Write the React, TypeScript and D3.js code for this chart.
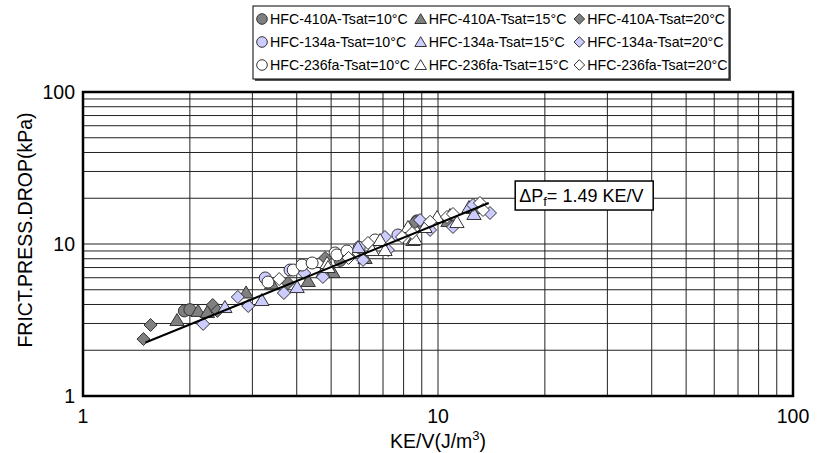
import React from "react";
import * as d3 from "d3";

// KE/V (J/m3) vs frictional pressure drop (kPa)
const r410a_10 = [[1.93, 3.63], [2.0, 3.70], [5.3, 7.8], [8.73, 14.2], [9.1, 13.4]];
const r410a_15 = [
  [1.84, 3.16], [2.11, 3.63], [2.24, 3.57], [2.88, 4.8], [3.4, 5.5], [4.31, 5.71],
  [5.06, 6.54], [6.23, 8.09], [8.5, 10.63], [10.67, 14.17], [12.55, 17.26],
];
const r410a_20 = [
  [1.48, 2.37], [1.55, 2.93], [2.32, 3.97], [2.39, 3.63], [3.78, 5.54],
  [4.81, 8.09], [5.6, 8.3], [8.62, 13.95],
];
const r134a_10 = [[3.26, 5.98], [3.83, 6.74], [6.0, 9.5], [7.71, 11.46]];
const r134a_15 = [
  [2.51, 3.85], [3.19, 4.28], [4.01, 5.21], [4.74, 6.54], [5.95, 9.55],
  [12.23, 17.51], [12.63, 15.76],
];
const r134a_20 = [
  [2.18, 2.98], [2.73, 4.48], [2.92, 3.91], [3.68, 4.76], [4.2, 6.44], [4.74, 6.07],
  [6.15, 7.85], [7.09, 11.12], [7.23, 9.13], [8.9, 14.38], [9.5, 12.37],
  [11.02, 12.94], [12.55, 18.06], [14.01, 15.99],
];
const r236fa_10 = [
  [3.32, 5.62], [3.91, 6.74], [4.14, 7.27], [4.42, 7.5], [5.13, 8.73],
  [5.19, 8.47], [5.54, 8.99], [6.65, 10.63],
];
const r236fa_15 = [
  [4.87, 7.5], [4.9, 7.06], [6.52, 9.13], [6.87, 10.63], [7.09, 9.13], [8.23, 12.94],
  [8.62, 10.8], [9.19, 12.94], [9.94, 15.06], [10.81, 15.52], [11.31, 13.95],
];
const r236fa_20 = [
  [3.57, 5.88], [5.6, 8.1], [6.35, 10.16], [7.92, 11.12], [8.45, 11.81], [9.5, 14.0],
  [10.6, 15.06], [11.02, 15.76], [13.13, 18.61], [13.39, 16.74],
];

const fitLine = [[1.5, 2.25], [13.9, 18.6]];
const fitLabelAt = [16.5, 21];

const xTicks = [1, 10, 100];
const yTicks = [1, 10, 100];

const series = [
  { name: "HFC-410A-Tsat=10°C", shape: "circle", fill: "#808080", data: r410a_10 },
  { name: "HFC-410A-Tsat=15°C", shape: "triangle", fill: "#808080", data: r410a_15 },
  { name: "HFC-410A-Tsat=20°C", shape: "diamond", fill: "#808080", data: r410a_20 },
  { name: "HFC-134a-Tsat=10°C", shape: "circle", fill: "#ccccff", data: r134a_10 },
  { name: "HFC-134a-Tsat=15°C", shape: "triangle", fill: "#ccccff", data: r134a_15 },
  { name: "HFC-134a-Tsat=20°C", shape: "diamond", fill: "#ccccff", data: r134a_20 },
  { name: "HFC-236fa-Tsat=10°C", shape: "circle", fill: "#ffffff", data: r236fa_10 },
  { name: "HFC-236fa-Tsat=15°C", shape: "triangle", fill: "#ffffff", data: r236fa_15 },
  { name: "HFC-236fa-Tsat=20°C", shape: "diamond", fill: "#ffffff", data: r236fa_20 },
];

const W = 831, H = 453;
const m = { left: 83, right: 38, top: 92, bottom: 57 };
const font = "'Liberation Sans', Arial, sans-serif";

function markerPath(shape: string, s: number) {
  if (shape === "circle") return d3.symbol(d3.symbolCircle, Math.PI * s * s)();
  if (shape === "triangle") return `M0,${-s}L${s * 1.1},${s * 0.85}L${-s * 1.1},${s * 0.85}Z`;
  return `M0,${-s}L${s},0L0,${s}L${-s},0Z`;
}

export default function App() {
  const x = d3.scaleLog().domain([1, 100]).range([m.left, W - m.right]);
  const y = d3.scaleLog().domain([1, 100]).range([H - m.bottom, m.top]);
  const gridX = x.ticks().filter((v) => v > 1 && v < 100);
  const gridY = y.ticks().filter((v) => v > 1 && v < 100);
  const line = d3.line<number[]>().x((d) => x(d[0])).y((d) => y(d[1]));

  const legX = 253, legY = 6, legW = 476, legH = 73;
  const colW = legW / 3;

  const lx = x(fitLabelAt[0]), ly = y(fitLabelAt[1]);

  return (
    <svg width={W} height={H} style={{ position: "absolute", left: 0, top: 0 }} fontFamily={font}>
      <rect width={W} height={H} fill="#fff" />
      {gridX.map((v) => (
        <line key={"gx" + v} x1={x(v)} x2={x(v)} y1={y(1)} y2={y(100)} stroke="#222" strokeWidth={1} />
      ))}
      {gridY.map((v) => (
        <line key={"gy" + v} x1={x(1)} x2={x(100)} y1={y(v)} y2={y(v)} stroke="#222" strokeWidth={1} />
      ))}
      <rect x={x(1)} y={y(100)} width={x(100) - x(1)} height={y(1) - y(100)} fill="none" stroke="#000" strokeWidth={2.5} />

      {series.map((s) =>
        s.data.map((d, i) => (
          <path key={s.name + i} d={markerPath(s.shape, s.shape === "circle" ? 6 : 6.5)!}
            transform={`translate(${x(d[0])},${y(d[1])})`} fill={s.fill} stroke="#333" strokeWidth={1} />
        ))
      )}
      <path d={line(fitLine)!} fill="none" stroke="#000" strokeWidth={2} />

      <g transform={`translate(${lx},${ly})`}>
        <rect x={0} y={-14} width={138} height={29} fill="#fff" stroke="#000" strokeWidth={1.5} />
        <text x={4} y={7} fontSize={18}>
          ΔP<tspan fontSize={13} dy={4}>f</tspan><tspan dy={-4}>= 1.49 KE/V</tspan>
        </text>
      </g>

      {xTicks.map((v) => (
        <text key={"xt" + v} x={x(v)} y={y(1) + 27} fontSize={19.5} textAnchor="middle">{v}</text>
      ))}
      {yTicks.map((v) => (
        <text key={"yt" + v} x={x(1) - 8} y={y(v) + 7} fontSize={19.5} textAnchor="end">{v}</text>
      ))}
      <text x={(x(1) + x(100)) / 2} y={448} fontSize={19.5} textAnchor="middle">
        KE/V(J/m<tspan fontSize={13} dy={-8}>3</tspan><tspan dy={8}>)</tspan>
      </text>
      <text transform="translate(32,230) rotate(-90)" fontSize={19.5} textAnchor="middle">
        FRICT.PRESS.DROP(kPa)
      </text>

      <rect x={legX + 2} y={legY + 2} width={legW} height={legH} fill="#555" />
      <rect x={legX} y={legY} width={legW} height={legH} fill="#fff" stroke="#000" strokeWidth={1} />
      {series.map((s, i) => {
        const cx = legX + 9 + (i % 3) * colW;
        const cy = legY + 13 + Math.floor(i / 3) * 23;
        return (
          <g key={"leg" + i}>
            <path d={markerPath(s.shape, 5.3)!} transform={`translate(${cx},${cy})`} fill={s.fill} stroke="#333" strokeWidth={1} />
            <text x={cx + 8} y={cy + 5} fontSize={14.2}>{s.name}</text>
          </g>
        );
      })}
    </svg>
  );
}
